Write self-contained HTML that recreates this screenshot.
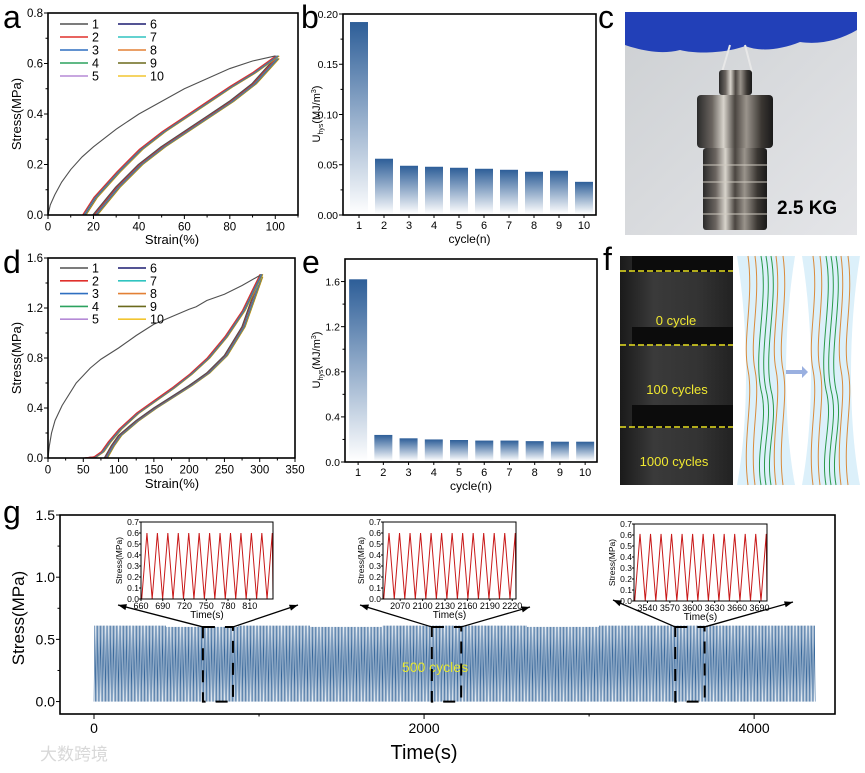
<!DOCTYPE html>
<html><head><meta charset="utf-8">
<style>
html,body{margin:0;padding:0;background:#fff;}
svg{display:block;font-family:"Liberation Sans","Noto Sans CJK SC",sans-serif;}
</style></head>
<body>
<svg id="fig" width="865" height="773" viewBox="0 0 865 773" xmlns="http://www.w3.org/2000/svg">
<defs>
<linearGradient id="barGrad" x1="0" y1="0" x2="0" y2="1">
<stop offset="0" stop-color="#2d5e98"/><stop offset="1" stop-color="#ffffff"/></linearGradient>
<linearGradient id="barGradE" x1="0" y1="0" x2="0" y2="1">
<stop offset="0" stop-color="#2d5e98"/><stop offset="1" stop-color="#ffffff"/></linearGradient>
<linearGradient id="metal" x1="0" y1="0" x2="1" y2="0">
<stop offset="0" stop-color="#2a2a2a"/><stop offset="0.2" stop-color="#6b6560"/><stop offset="0.35" stop-color="#d8d4cc"/><stop offset="0.5" stop-color="#4a4540"/><stop offset="0.65" stop-color="#9a948c"/><stop offset="0.85" stop-color="#3a3632"/><stop offset="1" stop-color="#1a1a1a"/></linearGradient>
<linearGradient id="wall" x1="0" y1="0" x2="1" y2="1">
<stop offset="0" stop-color="#cdd0d3"/><stop offset="1" stop-color="#e4e5e8"/></linearGradient>
<linearGradient id="darkPhoto" x1="0" y1="0" x2="1" y2="0">
<stop offset="0" stop-color="#1a1a1a"/><stop offset="0.3" stop-color="#3a3a3a"/><stop offset="0.7" stop-color="#333"/><stop offset="1" stop-color="#222"/></linearGradient>
</defs>
</svg>
<script>
const NS='http://www.w3.org/2000/svg';
const svg=document.getElementById('fig');
function mk(tag,attrs,parent){const e=document.createElementNS(NS,tag);for(const k in attrs)e.setAttribute(k,attrs[k]);(parent||svg).appendChild(e);return e;}
function txt(s,x,y,size,anchor,parent,extra){const t=mk('text',Object.assign({x:x,y:y,'font-size':size,'text-anchor':anchor||'start',fill:'#000'},extra||{}),parent);t.textContent=s;return t;}
function axis(x0,x1,y0,y1,xmin,xmax,ymin,ymax){return{sx:v=>x0+(v-xmin)/(xmax-xmin)*(x1-x0),sy:v=>y1-(v-ymin)/(ymax-ymin)*(y1-y0)};}

// ---------- DATA ----------
const curveColors=['#505050','#e0302c','#2f6fc0','#2ca25f','#b58ad6','#1b1b70','#30c4c0','#e38035','#6b6a1c','#f2c530'];
const cycleLabels=['1','2','3','4','5','6','7','8','9','10'];
// panel a
const aLoadStrain=[0,1,3,6,10,15,20,30,40,50,60,70,80,90,100];
const aLoadStress=[0,0.04,0.08,0.13,0.18,0.23,0.27,0.34,0.4,0.45,0.5,0.54,0.58,0.61,0.63];
const aUpStrain=[15,20,30,40,50,60,70,80,90,100];
const aUpStress=[0,0.07,0.17,0.26,0.33,0.39,0.45,0.51,0.565,0.63];
const aLowStrain=[20,30,40,50,60,70,80,90,100];
const aLowStress=[0,0.11,0.2,0.27,0.33,0.39,0.45,0.52,0.62];
const aOffsets=[0,0.2,0.4,0.6,0.8,1.0,1.2,1.4,1.6,1.8];
// panel b
const bCycles=[1,2,3,4,5,6,7,8,9,10];
const bValues=[0.192,0.056,0.049,0.048,0.047,0.046,0.045,0.043,0.044,0.033];
// panel d
const dLoadStrain=[0,2,5,10,20,40,60,75,100,125,150,175,200,210,225,250,275,300];
const dLoadStress=[0,0.1,0.2,0.3,0.42,0.6,0.72,0.79,0.88,0.98,1.07,1.13,1.19,1.21,1.26,1.31,1.38,1.46];
const dUpStrain=[50,65,75,85,100,125,150,175,200,225,250,275,300];
const dUpStress=[0,0.01,0.05,0.13,0.23,0.36,0.46,0.56,0.67,0.8,0.97,1.18,1.47];
const dLowStrain=[80,90,100,125,150,175,200,225,250,275,300];
const dLowStress=[0,0.1,0.18,0.3,0.4,0.49,0.58,0.68,0.82,1.05,1.45];
const dOffsets=[0,0.5,1,1.5,2,2.5,3,3.5,4,4.5];
// panel e
const eCycles=[1,2,3,4,5,6,7,8,9,10];
const eValues=[1.62,0.24,0.21,0.2,0.195,0.19,0.19,0.185,0.18,0.18];
// panel g
const gSegmentPeaks=[0.61,0.6,0.61,0.6,0.61,0.61,0.6,0.61,0.61,0.61];
const gTrough=[0.0];
const gCycles=[500];
const gTimeRange=[0,4370];
const gZoomWindows=[[660,842],[2047,2225],[3522,3700]];
const insetPeaks1=[0.6,0.6,0.6,0.6,0.6,0.6,0.6,0.6,0.6,0.6,0.6,0.6,0.6];
const insetPeaks2=[0.6,0.6,0.6,0.6,0.6,0.6,0.6,0.6,0.6,0.6,0.6,0.6,0.6];
const insetPeaks3=[0.61,0.61,0.61,0.61,0.61,0.61,0.61,0.61,0.61,0.61,0.61,0.61,0.61];
const insetTicks1=[660,690,720,750,780,810];
const insetTicks2=[2070,2100,2130,2160,2190,2220];
const insetTicks3=[3540,3570,3600,3630,3660,3690];
const insetYTicks=[0,0.1,0.2,0.3,0.4,0.5,0.6,0.7];

// ---------- helpers ----------
function frame(g,x0,x1,y0,y1){const r=mk('rect',{x:x0,y:y0,width:x1-x0,height:y1-y0,fill:'none',stroke:'#000','stroke-width':1.6},g);}
function xTicks(g,ax,vals,y1,labels,size,minor,len){vals.forEach((v,i)=>{mk('line',{x1:ax.sx(v),x2:ax.sx(v),y1:y1,y2:y1+(len||4),stroke:'#000','stroke-width':1},g);if(labels)txt(labels[i],ax.sx(v),y1+(len||4)+size,size,'middle',g);});(minor||[]).forEach(v=>mk('line',{x1:ax.sx(v),x2:ax.sx(v),y1:y1,y2:y1+2.5,stroke:'#000','stroke-width':1},g));}
function yTicks(g,ax,vals,x0,labels,size,minor){vals.forEach((v,i)=>{mk('line',{x1:x0-4,x2:x0,y1:ax.sy(v),y2:ax.sy(v),stroke:'#000','stroke-width':1},g);if(labels)txt(labels[i],x0-5,ax.sy(v)+size*0.36,size,'end',g);});(minor||[]).forEach(v=>mk('line',{x1:x0-2.5,x2:x0,y1:ax.sy(v),y2:ax.sy(v),stroke:'#000','stroke-width':1},g));}
function poly(g,ax,xs,ys,off,color,w){return mk('polyline',{points:xs.map((x,i)=>ax.sx(x+off)+','+ax.sy(ys[i])).join(' '),fill:'none',stroke:color,'stroke-width':w||1.1},g);}
function panelLabel(s,x,y){const t=txt(s,x,y,32,'start');}
function rotLabel(g,s,x,y,size){const t=txt(s,x,y,size,'middle',g,{transform:'rotate(-90 '+x+' '+y+')'});return t;}
function uhysLabel(g,x,y){const t=mk('text',{x:x,y:y,'font-size':11,'text-anchor':'middle',transform:'rotate(-90 '+x+' '+y+')'},g);t.innerHTML='U<tspan font-size="7" dy="3">hys</tspan><tspan dy="-3">(MJ/m</tspan><tspan font-size="7" dy="-4">3</tspan><tspan dy="4">)</tspan>';}
function legend(g,x,y,dy){cycleLabels.forEach((lab,i)=>{const col=i<5?0:1;const row=i%5;const lx=col===0?x:x+58;const ly=y+row*dy;const l=mk('line',{x1:lx,x2:lx+28,y1:ly,y2:ly,stroke:curveColors[i],'stroke-width':1.6},g);const t=txt(lab,lx+32,ly+4.5,12.5,'start',g);});}
function curvePanel(name,x0,x1,y0,y1,xmax,ymax,xt,xl,xm,yt,yl,ym,load,up,low,offs,legY,legDy){
 const g=mk('g',{});
 const ax=axis(x0,x1,y0,y1,0,xmax,0,ymax);
 for(let i=9;i>=1;i--){const c=poly(g,ax,low[0],low[1],offs[i],curveColors[i]);}
 const c0=poly(g,ax,low[0],low[1],-0.3,curveColors[0]);
 for(let i=9;i>=1;i--){const c=poly(g,ax,up[0],up[1],offs[i],curveColors[i]);}
 const lc=poly(g,ax,load[0],load[1],0,curveColors[0]);
 frame(g,x0,x1,y0,y1);
 xTicks(g,ax,xt,y1,xl,11.5,xm);yTicks(g,ax,yt,x0,yl,11.5,ym);
 legend(g,x0+12,legY,legDy);
 return g;}

// ---------- panel a ----------
panelLabel('a',3,28);
{const g=curvePanel('panel-a-stress-strain',48,298,13,215,110,0.8,[0,20,40,60,80,100],['0','20','40','60','80','100'],[10,30,50,70,90,110],[0,0.2,0.4,0.6,0.8],['0.0','0.2','0.4','0.6','0.8'],[0.1,0.3,0.5,0.7],[aLoadStrain,aLoadStress],[aUpStrain,aUpStress],[aLowStrain,aLowStress],aOffsets,24,13);
 const t=rotLabel(g,'Stress(MPa)',21,114,13);
 const x=txt('Strain(%)',172,244,13,'middle',g);}

// ---------- panel d ----------
panelLabel('d',3,273);
{const g=curvePanel('panel-d-stress-strain',48,295,258,458,350,1.6,[0,50,100,150,200,250,300,350],['0','50','100','150','200','250','300','350'],[25,75,125,175,225,275,325],[0,0.4,0.8,1.2,1.6],['0.0','0.4','0.8','1.2','1.6'],[0.2,0.6,1.0,1.4],[dLoadStrain,dLoadStress],[dUpStrain,dUpStress],[dLowStrain,dLowStress],dOffsets,268,12.8);
 const t=rotLabel(g,'Stress(MPa)',21,358,13);
 const x=txt('Strain(%)',172,488,13,'middle',g);}

// ---------- bar panels ----------
function barPanel(name,x0,x1,y0,y1,xmin,xmax,ymax,cats,vals,yt,yl,ym,grad){
 const g=mk('g',{});
 const ax=axis(x0,x1,y0,y1,xmin,xmax,0,ymax);
 cats.forEach((c,i)=>{const b=mk('rect',{x:ax.sx(c)-9,y:ax.sy(vals[i]),width:18,height:ax.sy(0)-ax.sy(vals[i])-1,fill:'url(#'+grad+')'},g);});
 frame(g,x0,x1,y0,y1);
 xTicks(g,ax,cats,y1,cats.map(String),11,null,3);yTicks(g,ax,yt,x0,yl,10.5,ym);
 const xt=txt('cycle(n)',(x0+x1)/2,y1+28,12,'middle',g);
 return g;}
panelLabel('b',301,28);
{const g=barPanel('panel-b-hysteresis-bars',343,596,14,215,0.36,10.48,0.2,bCycles,bValues,[0,0.05,0.1,0.15,0.2],['0.00','0.05','0.10','0.15','0.20'],[0.025,0.075,0.125,0.175],'barGrad');uhysLabel(g,320,114);}
panelLabel('e',302,273);
{const g=barPanel('panel-e-hysteresis-bars',345,597,259,462,0.48,10.47,1.8,eCycles,eValues,[0,0.4,0.8,1.2,1.6],['0.0','0.4','0.8','1.2','1.6'],[0.2,0.6,1.0,1.4],'barGradE');uhysLabel(g,320,360);}

// ---------- panel c photo ----------
panelLabel('c',598,28);
{const g=mk('g',{});
 mk('rect',{x:625,y:12,width:232,height:223,fill:'url(#wall)'},g);
 const glove=mk('path',{d:'M625,12 H857 V30 C840,40 820,45 800,42 C780,50 760,52 745,46 C730,52 700,55 680,50 C660,55 640,50 625,45 Z',fill:'#2240b8'},g);
 mk('path',{d:'M730,45 L722,72 M745,45 L752,72',stroke:'#e8e8e8','stroke-width':2,fill:'none'},g);
 mk('rect',{x:719,y:70,width:33,height:25,fill:'url(#metal)',rx:3},g);
 mk('rect',{x:697,y:95,width:76,height:53,fill:'url(#metal)',rx:4},g);
 mk('rect',{x:703,y:148,width:64,height:82,fill:'url(#metal)',rx:3},g);
 [165,182,198,214].forEach(y=>mk('line',{x1:703,x2:767,y1:y,y2:y,stroke:'#cfcac0','stroke-width':1},g));
 const t=txt('2.5 KG',777,214,19,'start',g,{'font-weight':'bold'});}

// ---------- panel f ----------
panelLabel('f',603,270);
{const g=mk('g',{});
 mk('rect',{x:620,y:256,width:113,height:229,fill:'url(#darkPhoto)'},g);
 [[256,272],[327,345],[405,428]].forEach(b=>mk('rect',{x:632,y:b[0],width:101,height:b[1]-b[0],fill:'#0c0c0c'},g));
 [271,345,427].forEach(y=>{const l=mk('line',{x1:620,x2:733,y1:y,y2:y,stroke:'#e8e020','stroke-width':1.5,'stroke-dasharray':'6,3'},g);});
 [['0 cycle',676,325],['100 cycles',677,394],['1000 cycles',674,466]].forEach(a=>{const t=txt(a[0],a[1],a[2],13,'middle',g,{fill:'#f0e830'});});
 [[737,795],[802,860]].forEach(s=>{const m=(s[0]+s[1])/2;mk('path',{d:`M${s[0]},256 H${s[1]} C${s[1]-12},330 ${s[1]-12},420 ${s[1]},485 H${s[0]} C${s[0]+12},420 ${s[0]+12},330 ${s[0]},256 Z`,fill:'#dcf0fa'},g);
  [-18,-11,10,17].forEach((o,k)=>mk('path',{d:`M${m+o},256 C${m+o+6},300 ${m+o-6},340 ${m+o},370 C${m+o+6},400 ${m+o-6},440 ${m+o},485`,stroke:'#d98a3a','stroke-width':1,fill:'none'},g));
  [-5,0,5].forEach(o=>mk('path',{d:`M${m+o},256 C${m+o+8},300 ${m+o-8},350 ${m+o},390 C${m+o+8},420 ${m+o-6},450 ${m+o},485`,stroke:'#2a9a4a','stroke-width':1,fill:'none'},g));});
 mk('path',{d:'M786,370 L802,370 L802,366 L808,372 L802,378 L802,374 L786,374 Z',fill:'#9ab0e0'},g);}

// ---------- panel g ----------
panelLabel('g',3,523);
{const g=mk('g',{});
 const ax=axis(60,835,515,714,-206,4490,-0.1,1.5);
 const n=gCycles[0];const per=(gTimeRange[1]-gTimeRange[0])/n;let pts=[];
 for(let i=0;i<n;i++){const t0=gTimeRange[0]+i*per;const pk=gSegmentPeaks[Math.floor(i*gSegmentPeaks.length/n)];pts.push(ax.sx(t0)+','+ax.sy(gTrough[0]));pts.push(ax.sx(t0+per/2)+','+ax.sy(pk));}
 pts.push(ax.sx(gTimeRange[1])+','+ax.sy(gTrough[0]));
 const s=mk('polyline',{points:pts.join(' '),fill:'none',stroke:'#2e6096','stroke-width':0.5},g);
 frame(g,60,835,515,714);
 xTicks(g,ax,[0,2000,4000],714,['0','2000','4000'],14,[1000,3000],5);
 yTicks(g,ax,[0,0.5,1,1.5],60,['0.0','0.5','1.0','1.5'],14,[0.25,0.75,1.25]);
 const yt=rotLabel(g,'Stress(MPa)',24,618,17);
 const xt=txt('Time(s)',424,759,20,'middle',g);
 const lab=txt('500 cycles',435,672,14,'middle',g,{fill:'#e8e830'});
 const insets=[[141,273,522,599,insetPeaks1,insetTicks1,[118,605],[298,605]],[383,516,522,599,insetPeaks2,insetTicks2,[360,605],[530,607]],[634,767,524,601,insetPeaks3,insetTicks3,[613,600],[793,602]]];
 insets.forEach((ins,k)=>{const w=gZoomWindows[k];
  const bx0=ax.sx(w[0]),bx1=ax.sx(w[1]);
  const db=mk('rect',{x:bx0,y:ax.sy(0.6),width:bx1-bx0,height:ax.sy(0)-ax.sy(0.6),fill:'none',stroke:'#000','stroke-width':2,'stroke-dasharray':'12,10'},g);
  [[bx0,ins[6]],[bx1,ins[7]]].forEach(a=>{const ar=mk('line',{x1:a[0],y1:ax.sy(0.6),x2:a[1][0],y2:a[1][1],stroke:'#000','stroke-width':1.3},g);
   const ang=Math.atan2(a[1][1]-ax.sy(0.6),a[1][0]-a[0]);const hx=a[1][0],hy=a[1][1];
   mk('path',{d:`M${hx},${hy} L${hx-9*Math.cos(ang-0.35)},${hy-9*Math.sin(ang-0.35)} L${hx-9*Math.cos(ang+0.35)},${hy-9*Math.sin(ang+0.35)} Z`,fill:'#000'},g);});
  const ig=mk('g',{},g);
  mk('rect',{x:ins[0],y:ins[2],width:ins[1]-ins[0],height:ins[3]-ins[2],fill:'#fff'},ig);
  const iax=axis(ins[0],ins[1],ins[2],ins[3],w[0],w[1],0,0.7);
  const pk=ins[4];const p=(w[1]-w[0]-2)/(pk.length-0.5);let ip=[];
  pk.forEach((v,i)=>{const t0=w[0]+1+i*p;ip.push(iax.sx(t0)+','+iax.sy(0));ip.push(iax.sx(t0+p/2)+','+iax.sy(v));});
  ip.push(iax.sx(w[1])+','+iax.sy(0.02));
  const wv=mk('polyline',{points:ip.join(' '),fill:'none',stroke:'#c81818','stroke-width':1},ig);
  mk('rect',{x:ins[0],y:ins[2],width:ins[1]-ins[0],height:ins[3]-ins[2],fill:'none',stroke:'#000','stroke-width':1},ig);
  ins[5].forEach(v=>{mk('line',{x1:iax.sx(v),x2:iax.sx(v),y1:ins[3],y2:ins[3]+2,stroke:'#000'},ig);txt(String(v),iax.sx(v),ins[3]+10,9,'middle',ig);});
  insetYTicks.forEach(v=>{mk('line',{x1:ins[0]-2,x2:ins[0],y1:iax.sy(v),y2:iax.sy(v),stroke:'#000'},ig);txt(v.toFixed(1),ins[0]-2,iax.sy(v)+3,8.5,'end',ig);});
  rotLabel(ig,'Stress(MPa)',ins[0]-19,(ins[2]+ins[3])/2,8.5);
  txt('Time(s)',(ins[0]+ins[1])/2,ins[3]+19,10,'middle',ig);});
}
{const w=txt('大数跨境',40,760,17,'start',svg,{fill:'#d8d8d8'});}
</script>
</body></html>
